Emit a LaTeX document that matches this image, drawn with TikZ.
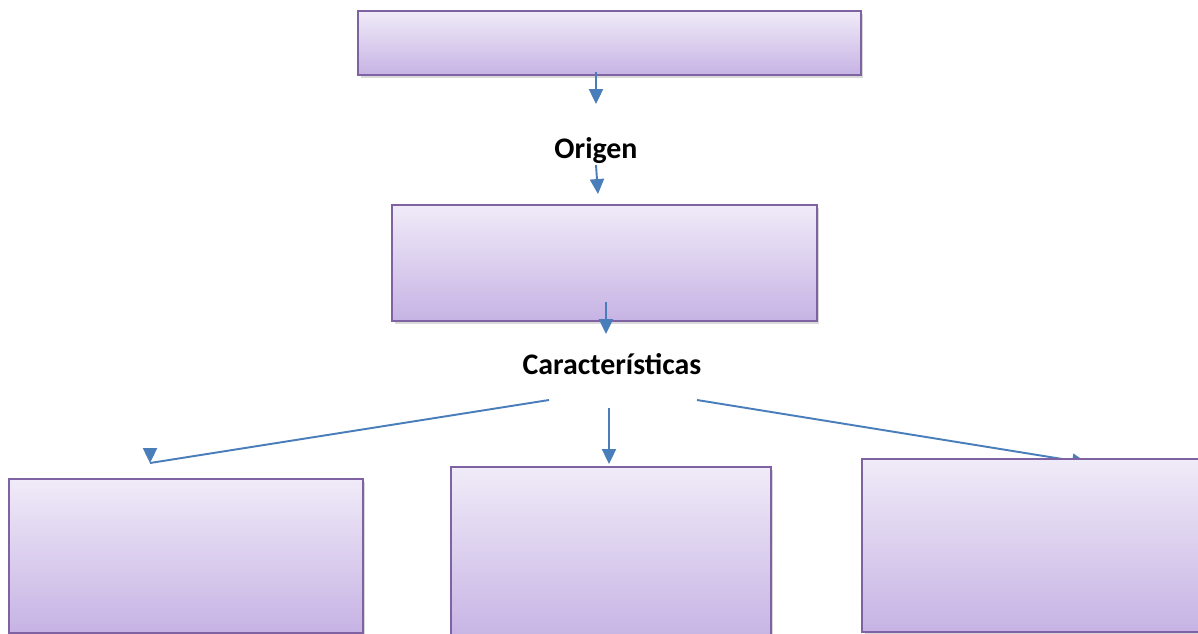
\documentclass[tikz,border=0pt]{standalone}
\usepackage{fontspec}
\setmainfont{Carlito}
\usetikzlibrary{arrows.meta,shadows}
\definecolor{boxline}{HTML}{7F62A1}
\definecolor{boxtop}{HTML}{F0EBF8}
\definecolor{boxbottom}{HTML}{C6B3E4}
\definecolor{linkblue}{HTML}{4A7EBB}
\begin{document}
\begin{tikzpicture}[x=0.02cm,y=-0.02cm]
    \tikzstyle{arrow} = [-{Triangle[width=8pt,length=8.5pt]}, draw=linkblue,
        fill=linkblue, line width=1.1pt]
    \tikzstyle{link} = [draw=linkblue, line width=1.1pt]
    \tikzstyle{box} = [rectangle, draw=boxline, line width=1pt, inner sep=0pt,
        top color=boxtop, bottom color=boxbottom,
        drop shadow={shadow xshift=1.5pt, shadow yshift=-2pt, opacity=0.3}]
    \tikzstyle{heading} = [font=\fontsize{17}{20}\selectfont\bfseries]

    \useasboundingbox (0,0) rectangle (1198,633);

    \node(origen) [heading] at (596,151) {Origen};
    \node(caracteristicas) [heading] at (612,364) {Características};

    \node(raiz) [box, minimum width=10.06cm, minimum height=1.28cm]
        at (357,10) [anchor=north west] {};
    \node(origenbox) [box, minimum width=8.5cm, minimum height=2.32cm]
        at (391,204) [anchor=north west] {};
    \node(izq) [box, minimum width=7.08cm, minimum height=3.08cm]
        at (8,478) [anchor=north west] {};
    \node(centro) [box, minimum width=6.4cm, minimum height=3.5cm]
        at (450,466) [anchor=north west] {};

    \coordinate (a1) at (596,72);
    \coordinate (b1) at (596,104);
    \coordinate (a2) at (596,165);
    \coordinate (b2) at (598,194);
    \coordinate (a3) at (606,302);
    \coordinate (b3) at (606,334);
    \coordinate (izqa) at (549,400);
    \coordinate (izqm) at (150,449);
    \coordinate (izqb) at (150,463);
    \coordinate (centroa) at (609,408);
    \coordinate (centrob) at (609,464);
    \coordinate (dera) at (697,400);
    \coordinate (derb) at (1087,463);

    \draw[arrow] (a1) -- (b1);
    \draw[arrow] (a2) -- (b2);
    \draw[arrow] (a3) -- (b3);
    \draw[link] (izqa) -- (izqb);
    \draw[arrow] (izqm) -- (izqb);
    \draw[arrow] (centroa) -- (centrob);
    \draw[arrow] (dera) -- (derb);

    \node(der) [box, minimum width=7cm, minimum height=3.46cm]
        at (861,458) [anchor=north west] {};
\end{tikzpicture}
\end{document}
